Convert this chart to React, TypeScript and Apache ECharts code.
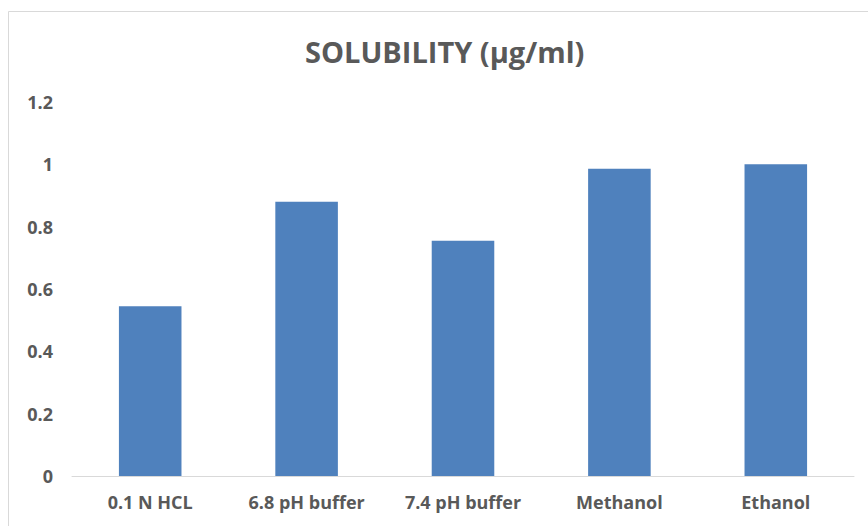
import React, { useEffect, useRef } from "react";
import * as echarts from "echarts";

const categories = ["0.1 N HCL", "6.8 pH buffer", "7.4 pH buffer", "Methanol", "Ethanol"];
const solubility = [0.545, 0.88, 0.755, 0.986, 1.0];
const yTicks = { min: 0, max: 1.2, interval: 0.2 };

const FONT = '"Open Sans", sans-serif';
const TEXT = "#595959";

export default function App() {
  const ref = useRef<HTMLDivElement>(null);

  useEffect(() => {
    if (!ref.current) return;
    const chart = echarts.init(ref.current, undefined, { renderer: "svg" });
    chart.setOption({
      animation: false,
      backgroundColor: "#ffffff",
      title: {
        text: "SOLUBILITY (µg/ml)",
        left: 300,
        top: 32,
        textStyle: { fontFamily: FONT, fontSize: 29, fontWeight: "bold", color: TEXT },
      },
      graphic: [
        {
          type: "rect",
          shape: { x: 8.5, y: 11.5, width: 900, height: 600 },
          style: { fill: "none", stroke: "#d9d9d9", lineWidth: 1 },
          silent: true,
        },
      ],
      grid: { left: 72, right: 14, top: 102, bottom: 50 },
      xAxis: {
        type: "category",
        data: categories,
        axisLine: { lineStyle: { color: "#d9d9d9", width: 1 } },
        axisTick: { show: false },
        axisLabel: { fontFamily: FONT, fontSize: 18, fontWeight: "bold", color: TEXT, margin: 17 },
      },
      yAxis: {
        type: "value",
        min: yTicks.min,
        max: yTicks.max,
        interval: yTicks.interval,
        splitLine: { show: false },
        axisLine: { show: false },
        axisTick: { show: false },
        axisLabel: {
          fontFamily: FONT,
          fontSize: 18,
          fontWeight: "bold",
          color: TEXT,
          margin: 19,
          formatter: (v: number) => String(parseFloat(v.toFixed(1))),
        },
      },
      series: [
        {
          type: "bar",
          data: solubility,
          barWidth: "40%",
          itemStyle: { color: "#4f81bd" },
        },
      ],
    });
    return () => chart.dispose();
  }, []);

  return (
    <div
      ref={ref}
      style={{ position: "fixed", left: 0, top: 0, width: 868, height: 526 }}
    />
  );
}
